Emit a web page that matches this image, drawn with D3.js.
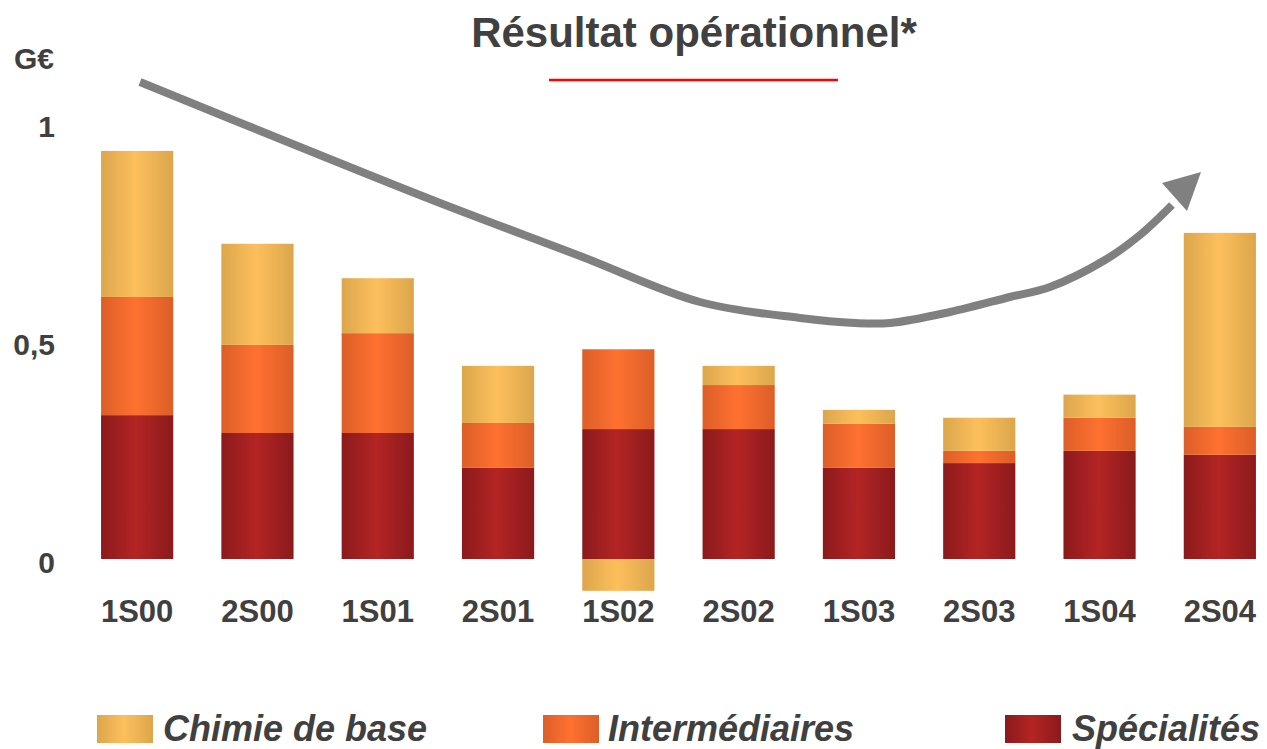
<!DOCTYPE html>
<html>
<head>
<meta charset="utf-8">
<script src="https://cdn.jsdelivr.net/npm/d3@7"></script>
<style>
  html, body { margin: 0; padding: 0; background: #fff; }
  svg { display: block; font-family: "Liberation Sans", Arial, sans-serif; }
</style>
</head>
<body>
<svg id="chart" width="1267" height="749"></svg>
<script>
// ---- data ----
const categories = ["1S00", "2S00", "1S01", "2S01", "1S02", "2S02", "1S03", "2S03", "1S04", "2S04"];
const specialites = [0.330, 0.289, 0.289, 0.209, 0.298, 0.298, 0.209, 0.220, 0.248, 0.239];
const intermediaires = [0.271, 0.202, 0.229, 0.103, 0.183, 0.101, 0.101, 0.028, 0.076, 0.064];
const chimieDeBase = [0.335, 0.232, 0.126, 0.131, -0.073, 0.044, 0.032, 0.076, 0.053, 0.445];
const seriesNames = ["Spécialités", "Intermédiaires", "Chimie de base"];
const tickValues = [0, 0.5, 1];
const tickLabels = ["0", "0,5", "1"];
const legendOrder = ["Chimie de base", "Intermédiaires", "Spécialités"];
// trend arrow (annotation path, pixel guide points)
const arrowPoints = [[140, 82], [300, 147], [440, 203], [580, 256], [700, 302], [800, 318], [855, 323], [890, 323], [950, 312], [1010, 297], [1050, 287], [1105, 260], [1140, 235], [1172, 205]];

const svg = d3.select("#chart");
const textColor = "#404040";
const FONT = "'Liberation Sans', Arial, sans-serif";

// gradients
const gradDefs = {
  "Chimie de base": ["#dca64c", "#fdbf5c"],
  "Intermédiaires": ["#dc5e28", "#ff7130"],
  "Spécialités": ["#8b1a1c", "#b42424"]
};
const defs = svg.append("defs");
const gid = {};
Object.entries(gradDefs).forEach(([name, [edge, mid]], i) => {
  const id = "g" + i;
  gid[name] = id;
  const g = defs.append("linearGradient").attr("id", id).attr("x1", "0").attr("x2", "1").attr("y1", "0").attr("y2", "0");
  g.append("stop").attr("offset", "0%").attr("stop-color", edge);
  g.append("stop").attr("offset", "48%").attr("stop-color", mid);
  g.append("stop").attr("offset", "100%").attr("stop-color", edge);
});

// scales
const x = d3.scaleBand().domain(categories).range([77, 1280]).paddingInner(0.4).paddingOuter(0.2);
const y = d3.scaleLinear().domain([0, 1]).range([559, 123]);

// stacking (positive values stack upward, negative go below zero)
const rows = categories.map((c, i) => ({
  cat: c,
  "Spécialités": specialites[i],
  "Intermédiaires": intermediaires[i],
  "Chimie de base": chimieDeBase[i]
}));
const stack = d3.stack().keys(seriesNames).offset(d3.stackOffsetDiverging);
const layers = stack(rows);

const gBars = svg.append("g");
layers.forEach(layer => {
  gBars.append("g").selectAll("rect").data(layer).join("rect")
    .attr("x", d => x(d.data.cat))
    .attr("width", x.bandwidth())
    .attr("y", d => y(Math.max(d[0], d[1])))
    .attr("height", d => Math.abs(y(d[0]) - y(d[1])))
    .attr("fill", `url(#${gid[layer.key]})`);
});

// y-axis labels
const yAxis = d3.axisLeft(y).tickValues(tickValues).tickFormat((d, i) => tickLabels[i]).tickSize(0).tickPadding(0);
const ga = svg.append("g").attr("transform", "translate(55,3.5)").call(yAxis);
ga.select(".domain").remove();
ga.attr("font-family", FONT);
ga.selectAll("text").attr("fill", textColor).style("font-size", "30px").style("font-weight", "bold")
  .style("font-family", FONT);

svg.append("text").attr("x", 14).attr("y", 69).text("G€")
  .attr("fill", textColor).style("font-size", "30px").style("font-weight", "bold");

// x-axis labels
const xAxis = d3.axisBottom(x).tickSize(0).tickPadding(0);
const gx = svg.append("g").attr("transform", "translate(0,600)").call(xAxis);
gx.select(".domain").remove();
gx.attr("font-family", FONT);
gx.selectAll("text").attr("fill", textColor).style("font-size", "31px").style("font-weight", "bold")
  .style("font-family", FONT);

// title
svg.append("text").attr("x", 694).attr("y", 47).attr("text-anchor", "middle")
  .text("Résultat opérationnel*").attr("fill", textColor)
  .style("font-size", "42px").style("font-weight", "bold");
svg.append("line").attr("x1", 549).attr("x2", 838).attr("y1", 80).attr("y2", 80)
  .attr("stroke", "#ff0000").attr("stroke-width", 2.5);

// arrow
const line = d3.line().curve(d3.curveCatmullRom.alpha(0.5));
svg.append("path").attr("d", line(arrowPoints)).attr("fill", "none")
  .attr("stroke", "#808080").attr("stroke-width", 8);
svg.append("path").attr("d", "M1201,172 L1162,183 L1187,211 Z").attr("fill", "#808080");

// legend
const legendPos = [{ sx: 97, tx: 163 }, { sx: 543, tx: 608 }, { sx: 1005, tx: 1072 }];
legendOrder.forEach((name, i) => {
  svg.append("rect").attr("x", legendPos[i].sx).attr("y", 715).attr("width", 56).attr("height", 28)
    .attr("fill", `url(#${gid[name]})`);
  svg.append("text").attr("x", legendPos[i].tx).attr("y", 741).text(name)
    .attr("fill", textColor).style("font-size", "36px").style("font-weight", "bold").style("font-style", "italic");
});
</script>
</body>
</html>
